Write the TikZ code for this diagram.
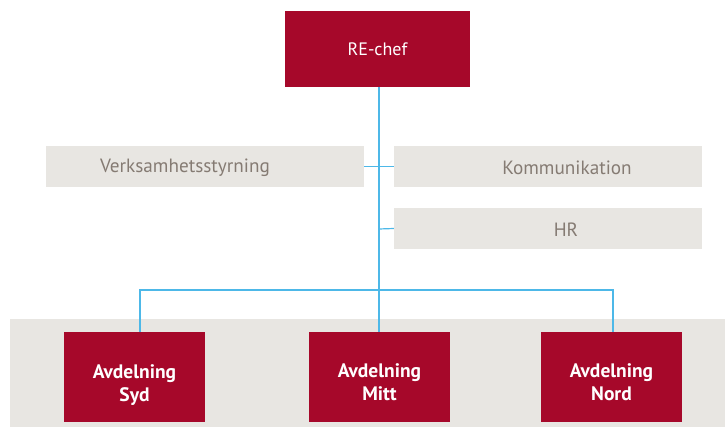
\documentclass[tikz,border=0pt]{standalone}
\usepackage{fontspec}
\setmainfont{PT Sans}
\definecolor{rered}{HTML}{A6082A}
\definecolor{regray}{HTML}{E8E6E2}
\definecolor{retext}{HTML}{857B73}
\definecolor{reblue}{HTML}{4DB8E8}
\begin{document}
\begin{tikzpicture}[x=1pt,y=-1pt,
  redbox/.style={fill=rered,text=white,inner sep=0,align=center},
  deptbox/.style={fill=rered,inner sep=0,minimum width=141pt,minimum height=90pt},
  depttext/.style={text=white,inner sep=0,align=center,font=\bfseries\fontsize{19.5}{22.5}\selectfont},
  graybox/.style={fill=regray,inner sep=0,minimum height=41pt},
  graytext/.style={text=retext,inner sep=0,font=\fontsize{19.2}{22}\selectfont},
  conn/.style={draw=reblue,line width=1.2pt}]
\useasboundingbox (0,0) rectangle (725,427);
\fill[regray] (10,319) rectangle (725,427);
\node[redbox,minimum width=185pt,minimum height=76pt,font=\fontsize{18}{22}\selectfont] (chef) at (377.5,49) {RE-chef};
\node[graybox,minimum width=318pt] (verk) at (205,166.5) {};
\node[graytext] (verkt) at (185,168) {Verksamhetsstyrning};
\node[graybox,minimum width=308pt] (komm) at (548,166.5) {};
\node[graytext] (kommt) at (567,168) {Kommunikation};
\node[graybox,minimum width=308pt] (hr) at (548,228.5) {};
\node[graytext] (hrt) at (566,230) {HR};
\node[deptbox] (syd) at (134.5,377) {};
\node[depttext] (sydt) at (134.5,385) {Avdelning\\Syd};
\node[deptbox] (mitt) at (379.5,377) {};
\node[depttext] (mittt) at (379.5,382) {Avdelning\\Mitt};
\node[deptbox] (nord) at (611.5,377) {};
\node[depttext] (nordt) at (611.5,382) {Avdelning\\Nord};
\coordinate (top) at (379,87);
\coordinate (bar) at (379,290);
\coordinate (hrj) at (379,229);
\draw[conn] (top) -- (bar);
\draw[conn] (verk.east) -- (komm.west);
\draw[conn] (hrj) -- (hr.west);
\draw[conn] (syd.north -| 140,0) |- (bar) -| (nord.north -| 613,0);
\draw[conn] (bar) -- (mitt.north -| 379,0);
\end{tikzpicture}
\end{document}
